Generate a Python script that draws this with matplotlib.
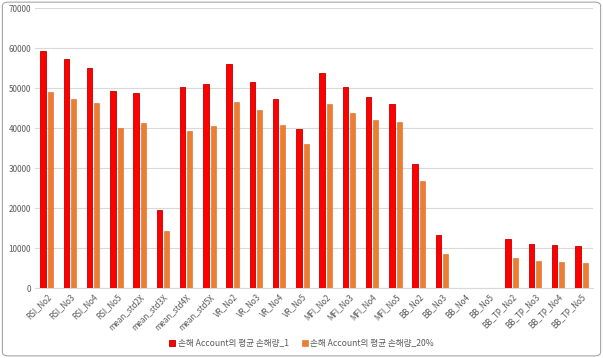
import matplotlib
matplotlib.use("Agg")
import matplotlib.pyplot as plt
import numpy as np
from matplotlib.patches import FancyBboxPatch

plt.rcParams['font.family'] = ['Noto Sans CJK KR', 'DejaVu Sans']

categories = ["RSI_No2", "RSI_No3", "RSI_No4", "RSI_No5",
              "mean_std2X", "mean_std3X", "mean_std4X", "mean_std5X",
              "VR_No2", "VR_No3", "VR_No4", "VR_No5",
              "MFI_No2", "MFI_No3", "MFI_No4", "MFI_No5",
              "BB_No2", "BB_No3", "BB_No4", "BB_No5",
              "BB_TP_No2", "BB_TP_No3", "BB_TP_No4", "BB_TP_No5"]
series1 = [59300, 57300, 55000, 49250,
           48750, 19500, 50200, 51000,
           55900, 51400, 47250, 39700,
           53700, 50200, 47700, 45900,
           30900, 13250, 0, 0,
           12150, 11000, 10750, 10400]
series2 = [49000, 47200, 46200, 40000,
           41300, 14250, 39250, 40500,
           46600, 44500, 40700, 35900,
           45900, 43750, 42100, 41400,
           26700, 8500, 0, 0,
           7400, 6750, 6600, 6150]
name1 = "손해 Account의 평균 손해량_1"
name2 = "손해 Account의 평균 손해량_20%"
yticks = [0, 10000, 20000, 30000, 40000, 50000, 60000, 70000]

fig = plt.figure(figsize=(6.03, 3.58), dpi=100)
ax = fig.add_axes([35/603, 1-288/358, 558/603, 280/358])

x = np.arange(len(categories))
ax.bar(x - 0.15, series1, width=0.23, color="#FF0000", edgecolor="#C00000", linewidth=0.6, label=name1, zorder=3)
ax.bar(x + 0.16, series2, width=0.21, color="#ED7D31", edgecolor="#D9692A", linewidth=0.4, label=name2, zorder=3)

ax.set_xlim(-0.5, len(categories) - 0.5)
ax.set_ylim(0, 70000)
ax.set_yticks(yticks)
ax.set_yticklabels([str(v) for v in yticks], fontsize=5.8, color="#595959")
ax.yaxis.grid(True, color="#D9D9D9", linewidth=0.8, zorder=0)
ax.set_axisbelow(True)
for s in ["top", "right", "left"]:
    ax.spines[s].set_visible(False)
ax.spines["bottom"].set_color("#D9D9D9")
ax.tick_params(axis="both", length=0, pad=3)
ax.set_xticks(x)
ax.set_xticklabels(categories, rotation=45, ha="right", rotation_mode="anchor",
                   fontsize=5.8, color="#595959")

fig.legend(loc="lower center", bbox_to_anchor=(0.5, 0.005), ncol=2, frameon=False,
           fontsize=6.2, handlelength=0.7, handleheight=0.7, handletextpad=0.3,
           columnspacing=1.5, labelcolor="#595959")

border = FancyBboxPatch((0.004, 0.006), 0.992, 0.988, boxstyle="round,pad=0,rounding_size=0.01",
                        transform=fig.transFigure, fill=False, edgecolor="#A6A6A6", linewidth=0.8)
fig.patches.append(border)

fig.savefig("out.png", dpi=100)
